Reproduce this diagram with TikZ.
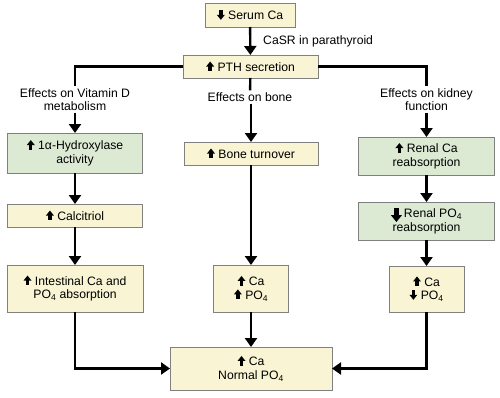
\documentclass[tikz,border=0pt]{standalone}
\usepackage{fontspec}
\setmainfont{Liberation Sans}
\usetikzlibrary{arrows.meta,calc}
\definecolor{boxyellow}{HTML}{F8F4D4}
\definecolor{boxgreen}{HTML}{DCEAD4}
\definecolor{boxline}{HTML}{808080}
\newcommand{\uparr}{\tikz[baseline=0pt]{\fill (-1.7pt,0) rectangle (1.7pt,5pt); \fill (-4pt,4.8pt) -- (4pt,4.8pt) -- (0,9.8pt) -- cycle;}}
\newcommand{\downarr}{\tikz[baseline=0pt]{\fill (-1.7pt,9.8pt) rectangle (1.7pt,4.8pt); \fill (-4pt,5pt) -- (4pt,5pt) -- (0,0pt) -- cycle;}}
\newcommand{\bigdownarr}{\tikz[baseline=3pt]{\fill (-2.2pt,13pt) rectangle (2.2pt,5.5pt); \fill (-5.5pt,5.8pt) -- (5.5pt,5.8pt) -- (0,-1pt) -- cycle;}}
\begin{document}
\begin{tikzpicture}[x=1pt,y=-1pt,
  font=\fontsize{12.2}{13.5}\selectfont,
  basebox/.style={draw=boxline,line width=0.9pt,align=center,inner sep=1pt,outer sep=0pt},
  ybox/.style={basebox,fill=boxyellow},
  gbox/.style={basebox,fill=boxgreen},
  lab/.style={align=center,inner sep=2pt},
  conn/.style={line width=2.4pt},
  arr/.style={conn,-{Triangle[length=9pt,width=12pt]}}]
\useasboundingbox (0,0) rectangle (500,397);
% top
\node[ybox,minimum width=90pt,minimum height=24pt] (serum) at (250,15) {\downarr\ Serum Ca};
\node[ybox,minimum width=135pt,minimum height=23pt] (pth) at (250.5,66.5) {\uparr\ PTH secretion};
\node[lab,anchor=west] (casr) at (261,41) {CaSR in parathyroid};
\draw[arr] (serum) -- (pth);
% labels
\node[lab] (labvd) at (75,99.5) {Effects on Vitamin D\\metabolism};
\node[lab] (labbone) at (250,97) {Effects on bone};
\node[lab] (labkid) at (426.5,99.5) {Effects on kidney\\function};
\draw[conn] (pth.west) -| (labvd.north);
\draw[conn] (pth.east) -| (labkid.north);
\draw[conn] (pth) -- (labbone);
% left column
\node[gbox,minimum width=135pt,minimum height=40pt] (hyd) at (75,153) {\uparr\ 1α-Hydroxylase\\activity};
\node[ybox,minimum width=135pt,minimum height=23pt] (calc) at (75,215.5) {\uparr\ Calcitriol};
\node[ybox,minimum width=136pt,minimum height=47pt] (int) at (75,288.5) {\uparr\ Intestinal Ca and\\PO\textsubscript{4} absorption};
\draw[arr] (labvd) -- (hyd);
\draw[arr] (hyd) -- (calc);
\draw[arr] (calc) -- (int);
% middle column
\node[ybox,minimum width=134pt,minimum height=23pt] (bone) at (251,153.5) {\uparr\ Bone turnover};
\node[ybox,minimum width=75pt,minimum height=47pt] (mid) at (251,288.5) {\uparr\ Ca\\\uparr\ PO\textsubscript{4}};
\node[ybox,minimum width=162pt,minimum height=43pt] (fin) at (251,368.5) {\uparr\ Ca\\Normal PO\textsubscript{4}};
\draw[arr] (labbone.south -| bone) -- (bone);
\draw[arr] (bone) -- (mid);
\draw[arr] (mid) -- (fin);
% right column
\node[gbox,minimum width=136pt,minimum height=38pt] (rca) at (426.5,156) {\uparr\ Renal Ca\\reabsorption};
\node[gbox,minimum width=136pt,minimum height=38pt] (rpo) at (426.5,221) {\bigdownarr\,Renal PO\textsubscript{4}\\reabsorption};
\node[ybox,minimum width=75pt,minimum height=46pt] (rmid) at (426.5,289) {\uparr\ Ca\\\downarr\ PO\textsubscript{4}};
\draw[arr] (labkid) -- (rca);
\draw[arr] (rca) -- (rpo);
\draw[arr] (rpo) -- (rmid);
% to final
\draw[arr] (int) |- (fin);
\draw[arr] (rmid) |- (fin);
\end{tikzpicture}
\end{document}
